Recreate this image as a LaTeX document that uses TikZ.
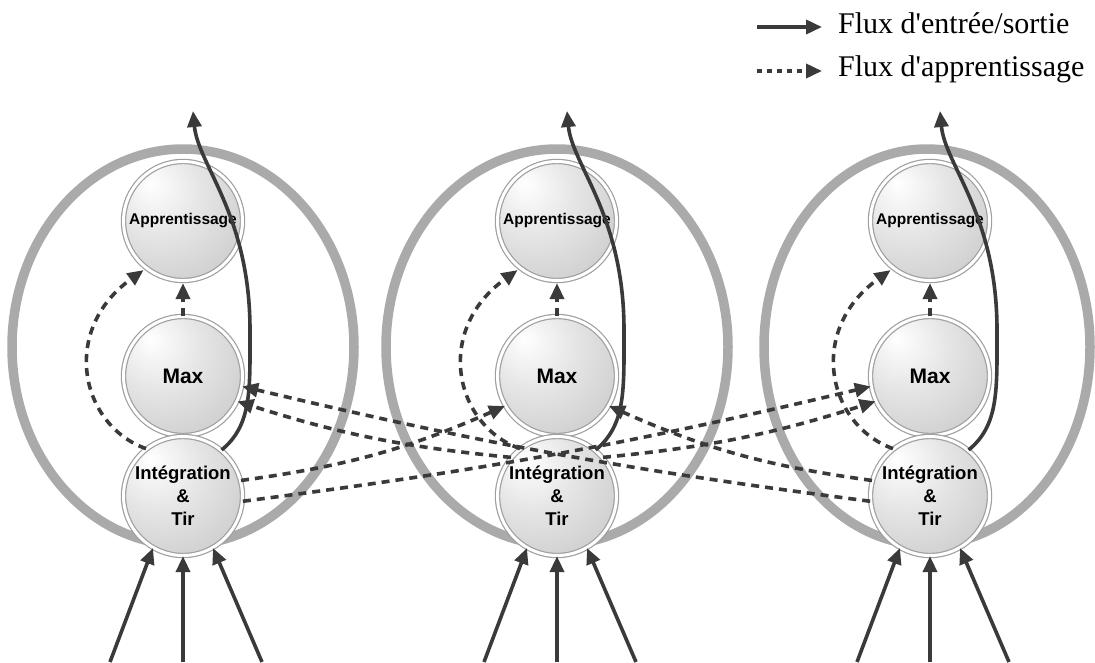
\documentclass[tikz,border=0pt]{standalone}
\usepackage{fontspec}
\setmainfont{Liberation Serif}
\setsansfont{Liberation Sans}
\usetikzlibrary{arrows.meta}
\pgfdeclareradialshading{cellshade}{\pgfpoint{-14bp}{16bp}}{color(0bp)=(white); color(18bp)=(gray!20); color(50bp)=(gray!50); color(75bp)=(gray!65)}
\definecolor{ink}{HTML}{3A3A3A}
\definecolor{ringgray}{HTML}{AAAAAA}
\begin{document}
\begin{tikzpicture}[x=1pt,y=-1pt,
  ring/.style={draw=ringgray, line width=9.5pt},
  cell/.style={circle, minimum size=119pt, inner sep=0pt, draw=gray!75, line width=1.2pt, double=white, double distance=3pt, shading=cellshade, text=black, align=center},
  apptext/.style={font=\sffamily\bfseries\fontsize{15.5}{17}\selectfont},
  maxtext/.style={font=\sffamily\bfseries\fontsize{21}{24}\selectfont},
  inttext/.style={font=\sffamily\bfseries\fontsize{18.5}{23}\selectfont},
  tip/.style={-{Triangle[length=16pt,width=14pt]}},
  flow/.style={tip, draw=ink, line width=3.6pt},
  learn/.style={tip, draw=ink, line width=3.6pt, dash pattern=on 8pt off 6pt},
  legtext/.style={font=\fontsize{30}{33}\selectfont, anchor=west, inner sep=0pt}
]
\useasboundingbox (0,0) rectangle (1095,662);
% outer rings
\draw[ring] (183,347) ellipse [x radius=171, y radius=198];
\draw[ring] (557,347) ellipse [x radius=171, y radius=198];
\draw[ring] (927,347) ellipse [x radius=163, y radius=198];
% nodes
\foreach \c/\x in {A/183,B/557,C/930}{
  \node[cell, apptext] (app\c) at (\x,221) {Apprentissage};
  \node[cell, maxtext] (max\c) at (\x,376) {Max};
  \node[cell, inttext] (int\c) at (\x,496) {Intégration\\\&\\Tir};
  \coordinate (inL\c) at (\x-73,662);
  \coordinate (inM\c) at (\x,662);
  \coordinate (inR\c) at (\x+79,662);
  \coordinate (out\c) at (\x+10,111);
}
% connectors within columns
\foreach \c/\x in {A/183,B/557,C/930}{
  \draw[flow] (inL\c) -- (int\c.-120);
  \draw[flow] (inM\c) -- (int\c.south);
  \draw[flow] (inR\c) -- (int\c.-60);
  \draw[flow] (int\c.50) .. controls (\x+69,425) and (\x+67,390) .. (\x+67,330)
     .. controls (\x+67,215) and (\x+15,165) .. (out\c);
  \draw[learn, shorten >=2pt] (max\c.north) -- (app\c.south);
  \draw[learn, shorten >=3pt] (int\c.128) .. controls (\x-103,425) and (\x-123,330) .. (app\c.-128);
}
% cross links
\draw[learn] (intA.15) to[bend right=8] (maxB.-150);
\draw[learn] (intA.-5) to[bend right=3] (maxC.-170);
\draw[learn] (intB.140) to[bend left=6] (maxA.-25);
\draw[learn] (intB.40) to[bend right=6] (maxC.-155);
\draw[learn] (intC.165) to[bend left=8] (maxB.-30);
\draw[learn] (intC.-175) to[bend left=3] (maxA.-10);
% legend
\coordinate (l1s) at (757,27);
\coordinate (l1e) at (822,27);
\coordinate (l2s) at (757,71);
\coordinate (l2e) at (822,71);
\draw[flow] (l1s) -- (l1e);
\draw[learn, dash pattern=on 5pt off 5pt] (l2s) -- (l2e);
\node[legtext] (leg1) at (838,23) {Flux d\textquotesingle entrée/sortie};
\node[legtext] (leg2) at (838,69) {Flux d\textquotesingle apprentissage};
\end{tikzpicture}
\end{document}
